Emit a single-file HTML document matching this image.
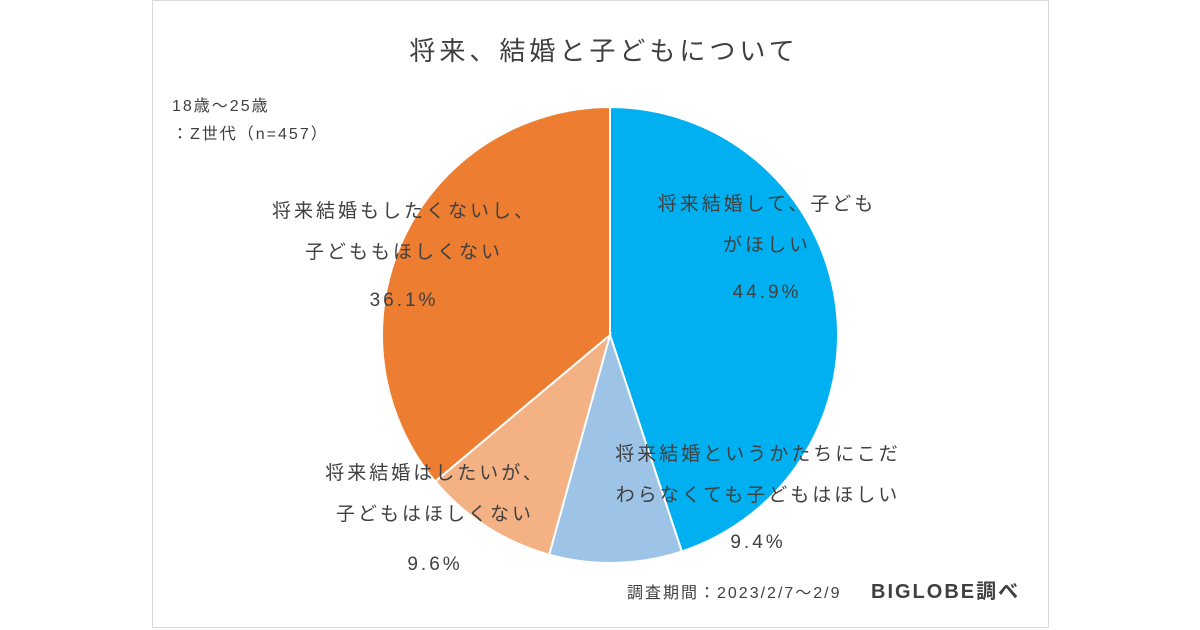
<!DOCTYPE html>
<html><head><meta charset="utf-8"><style>
body{margin:0;width:1200px;height:630px;background:#fff;overflow:hidden;font-family:"Liberation Sans","Noto Sans CJK JP",sans-serif;}
svg{position:absolute;left:0;top:0}
text{font-family:"Liberation Sans","Noto Sans CJK JP",sans-serif;fill:#404040}
.lb{font-size:19px;letter-spacing:3px}
</style></head><body>
<svg width="1200" height="630">
<rect x="152.5" y="0.5" width="896" height="627" fill="#fff" stroke="#d9d9d9"/>
<text x="604" y="60" font-size="26" letter-spacing="4" text-anchor="middle">将来、結婚と子どもについて</text>
<text x="172" y="111" font-size="16" letter-spacing="2">18歳～25歳</text>
<text x="172" y="139" font-size="16" letter-spacing="2">：Z世代（n=457）</text>
<g id="pie"></g>
<g class="lb" text-anchor="middle">
<text x="767" y="210">将来結婚して、子ども</text>
<text x="767" y="251">がほしい</text>
<text x="767" y="298">44.9%</text>
<text x="758" y="460">将来結婚というかたちにこだ</text>
<text x="758" y="501">わらなくても子どもはほしい</text>
<text x="758" y="548">9.4%</text>
<text x="435" y="479">将来結婚はしたいが、</text>
<text x="435" y="520">子どもはほしくない</text>
<text x="435" y="570">9.6%</text>
<text x="404" y="217">将来結婚もしたくないし、</text>
<text x="404" y="258">子どももほしくない</text>
<text x="404" y="306">36.1%</text>
</g>
<text x="627" y="598" font-size="16" letter-spacing="2">調査期間：2023/2/7～2/9</text>
<text x="871" y="598" font-size="20" letter-spacing="2" font-weight="bold" fill="#222">BIGLOBE調べ</text>
</svg>
<script>
const categories=["将来結婚して、子どもがほしい","将来結婚というかたちにこだわらなくても子どもはほしい","将来結婚はしたいが、子どもはほしくない","将来結婚もしたくないし、子どももほしくない"];
const values=[44.9,9.4,9.6,36.1];
const colors=["#00b0f0","#9dc3e6","#f4b183","#ed7d31"];
const cx=610,cy=335,r=228;
const g=document.getElementById('pie');
const total=values.reduce((a,b)=>a+b,0);
let a=0;
values.forEach((v,i)=>{
  const a0=a/total*2*Math.PI, a1=(a+v)/total*2*Math.PI; a+=v;
  const x0=cx+r*Math.sin(a0),y0=cy-r*Math.cos(a0),x1=cx+r*Math.sin(a1),y1=cy-r*Math.cos(a1);
  const p=document.createElementNS('http://www.w3.org/2000/svg','path');
  p.setAttribute('d',`M${cx},${cy}L${x0},${y0}A${r},${r} 0 ${a1-a0>Math.PI?1:0} 1 ${x1},${y1}Z`);
  p.setAttribute('fill',colors[i]);p.setAttribute('stroke','#fff');p.setAttribute('stroke-width','2');
  
  
  g.appendChild(p);
});
</script>
</body></html>
